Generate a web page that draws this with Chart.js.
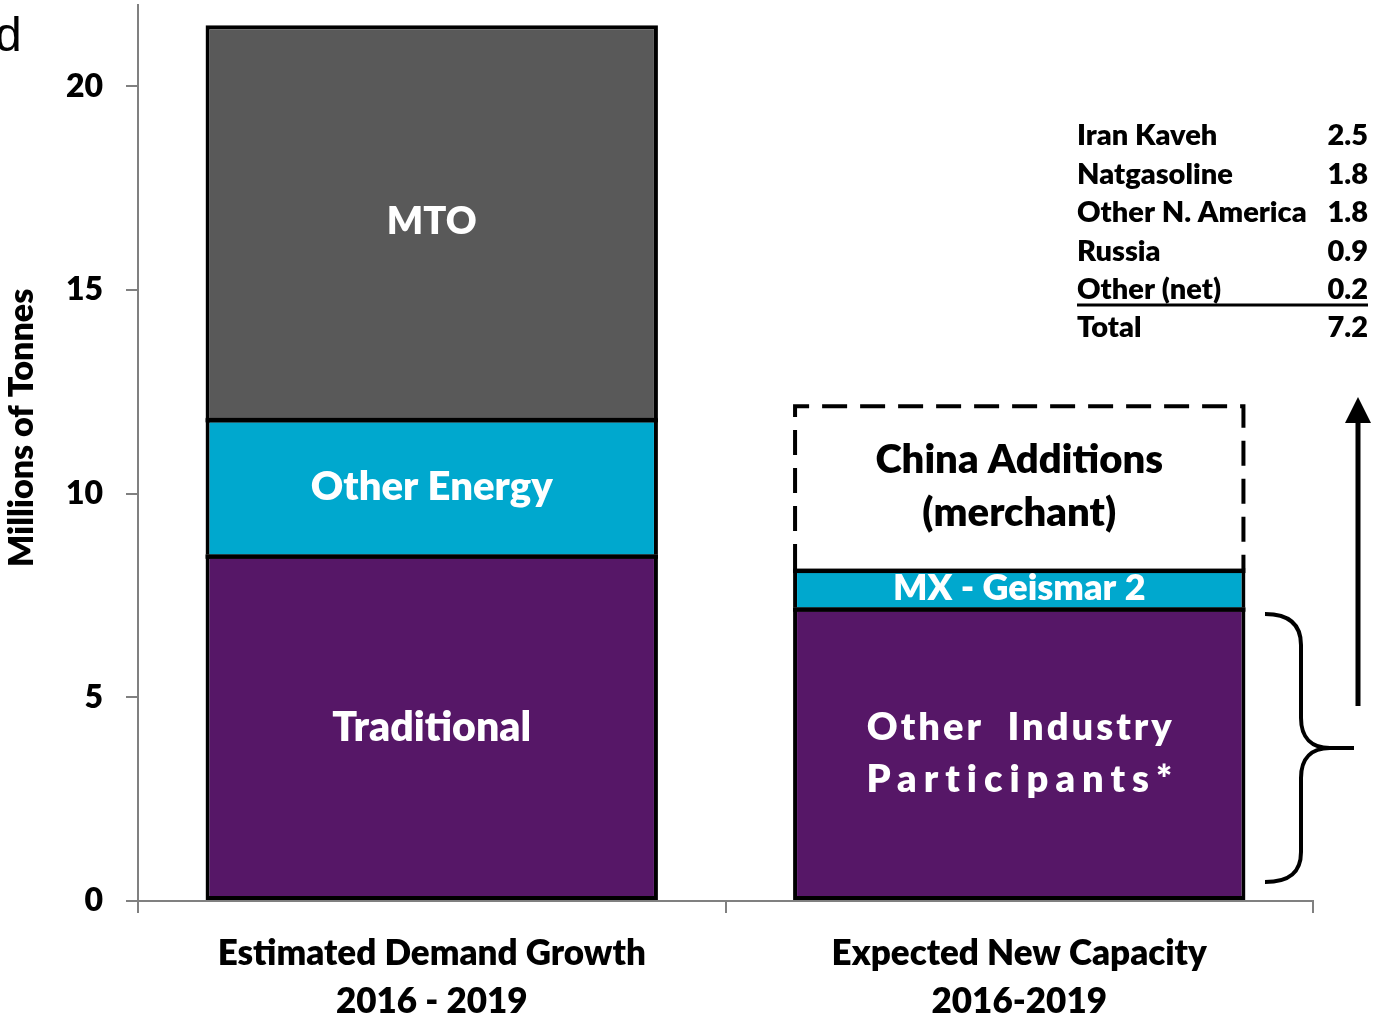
<!DOCTYPE html>
<html lang="en">
<head>
<meta charset="UTF-8">
<title>Demand Growth vs New Capacity</title>
<script src="https://cdn.jsdelivr.net/npm/chart.js@4.4.1/dist/chart.umd.min.js"></script>
<style>
  body { margin: 0; background: #fff; }
  canvas { display: block; }
</style>
</head>
<body>
<canvas id="grafico1" width="1374" height="1021"></canvas>

<script>
// categories (two-line axis labels)
const categories = [
  ["Estimated Demand Growth", "2016 - 2019"],
  ["Expected New Capacity", "2016-2019"]
];

// stacked segments, millions of tonnes
const traditional    = [8.5, null];
const otherEnergy    = [3.35, null];
const mto            = [9.65, null];
const otherIndustry  = [null, 7.2];
const geismar        = [null, 0.95];
const chinaAdditions = [null, 4.05];

const yTicks = [0, 5, 10, 15, 20];

// side table
const tableNames  = ["Iran Kaveh", "Natgasoline", "Other N. America", "Russia", "Other (net)", "Total"];
const tableValues = ["2.5", "1.8", "1.8", "0.9", "0.2", "7.2"];

const FONT = "Lato, 'Open Sans', sans-serif";
const W = "800";

document.addEventListener("DOMContentLoaded", function () {

  // text inside each segment
  const segLabels = {
    0: { lines: ["Traditional"], color: "#fff", size: 41 },
    1: { lines: ["Other Energy"], color: "#fff", size: 40 },
    2: { lines: ["MTO"], color: "#fff", size: 38 },
    3: { lines: ["Other  Industry", "Participants*"], color: "#fff", size: 38, spacing: [3, 7], lh: 52 },
    4: { lines: ["MX - Geismar 2"], color: "#fff", size: 36 },
    5: { lines: ["China Additions", "(merchant)"], color: "#000", size: 40, lh: 53 }
  };
  // segments with another segment stacked on top of them
  const hasSegAbove = [0, 1, 3, 4];

  const extras = {
    id: "extras",
    afterDatasetsDraw(chart) {
      const c = chart.ctx;
      c.save();
      c.textAlign = "center";
      c.textBaseline = "middle";
      chart.data.datasets.forEach((ds, di) => {
        const meta = chart.getDatasetMeta(di);
        meta.data.forEach((el, i) => {
          if (ds.data[i] == null) return;
          const p = el.getProps(["x", "y", "base", "width"], true);

          // keep the divider between stacked segments as heavy as the outline
          if (hasSegAbove.includes(di)) {
            c.fillStyle = "#000";
            c.fillRect(p.x - p.width / 2, p.y - 0.5, p.width, 4.5);
          }

          // dashed outline for the China box
          if (di === 5) {
            c.save();
            c.strokeStyle = "#000";
            c.lineWidth = 4;
            c.setLineDash([25, 13]);
            const l = p.x - p.width / 2 + 2, r = p.x + p.width / 2 - 2;
            c.beginPath();
            c.moveTo(l, p.base);
            c.lineTo(l, p.y + 2);
            c.lineTo(r, p.y + 2);
            c.lineTo(r, p.base);
            c.stroke();
            c.restore();
          }

          const s = segLabels[di];
          const lh = s.lh || s.size * 1.3;
          const cy = (p.y + p.base) / 2;
          c.fillStyle = s.color;
          c.font = W + " " + s.size + "px " + FONT;
          s.lines.forEach((t, k) => {
            c.letterSpacing = s.spacing ? s.spacing[k] + "px" : "0px";
            const off = s.spacing ? s.spacing[k] / 2 : 0;
            c.fillText(t, p.x + off, cy + (k - (s.lines.length - 1) / 2) * lh);
          });
          c.letterSpacing = "0px";
        });
      });
      c.restore();
    },
    afterDraw(chart) {
      const c = chart.ctx;
      c.save();

      // cut-off letter from the slide title
      c.fillStyle = "#000";
      c.font = "48px 'Liberation Sans', Arial, sans-serif";
      c.textAlign = "left";
      c.textBaseline = "alphabetic";
      c.fillText("d", -5, 51);

      // y axis title
      c.save();
      c.translate(22, 428);
      c.rotate(-Math.PI / 2);
      c.font = W + " 34px " + FONT;
      c.textAlign = "center";
      c.textBaseline = "middle";
      c.fillText("Millions of Tonnes", 0, 0);
      c.restore();

      // table
      c.font = W + " 29px " + FONT;
      c.textBaseline = "middle";
      tableNames.forEach((n, i) => {
        const y = 136 + i * 38.4;
        c.textAlign = "left";
        c.fillText(n, 1077, y);
        c.textAlign = "right";
        c.fillText(tableValues[i], 1368, y);
      });
      c.strokeStyle = "#000";
      c.lineWidth = 3;
      c.beginPath();
      c.moveTo(1077, 305);
      c.lineTo(1368, 305);
      c.stroke();

      // arrow
      c.lineWidth = 5;
      c.beginPath();
      c.moveTo(1358, 706);
      c.lineTo(1358, 418);
      c.stroke();
      c.beginPath();
      c.moveTo(1358, 397);
      c.lineTo(1345, 423);
      c.lineTo(1371, 423);
      c.closePath();
      c.fill();

      // brace
      c.lineWidth = 4;
      c.beginPath();
      c.moveTo(1265, 614);
      c.bezierCurveTo(1290, 614, 1301, 625, 1301, 645);
      c.lineTo(1301, 718);
      c.bezierCurveTo(1301, 738, 1312, 748, 1330, 748);
      c.lineTo(1354, 748);
      c.moveTo(1330, 748);
      c.bezierCurveTo(1312, 748, 1301, 758, 1301, 778);
      c.lineTo(1301, 852);
      c.bezierCurveTo(1301, 872, 1290, 882, 1265, 882);
      c.stroke();

      c.restore();
    }
  };

  const ctx = document.getElementById("grafico1").getContext("2d");
  const seg = (label, data, color, skip) => ({
    label: label,
    data: data,
    backgroundColor: color,
    borderColor: "#000",
    borderWidth: 4,
    borderSkipped: skip
  });

  new Chart(ctx, {
    type: "bar",
    data: {
      labels: categories,
      datasets: [
        seg("Traditional", traditional, "#561767", false),
        seg("Other Energy", otherEnergy, "#00A8CE", "bottom"),
        seg("MTO", mto, "#595959", "bottom"),
        seg("Other Industry Participants*", otherIndustry, "#561767", false),
        seg("MX - Geismar 2", geismar, "#00A8CE", "bottom"),
        { label: "China Additions (merchant)", data: chinaAdditions, backgroundColor: "#fff", borderWidth: 0 }
      ]
    },
    options: {
      responsive: false,
      animation: false,
      devicePixelRatio: 1,
      layout: { padding: { left: 0, top: 5, right: 61, bottom: 0 } },
      categoryPercentage: 0.77,
      barPercentage: 1,
      plugins: {
        legend: { display: false },
        tooltip: { enabled: false }
      },
      scales: {
        x: {
          stacked: true,
          grid: { drawOnChartArea: false, color: "#808080", lineWidth: 2, tickLength: 12, offset: true },
          border: { color: "#808080", width: 2 },
          ticks: {
            color: "#000",
            padding: 17,
            font: { family: FONT, weight: W, size: 35, lineHeight: 1.37 }
          },
          afterFit: s => { s.height = 120; s.paddingLeft = 0; s.paddingRight = 0; }
        },
        y: {
          stacked: true,
          min: 0,
          max: 22,
          grid: { drawOnChartArea: false, color: "#808080", lineWidth: 2, tickLength: 12 },
          border: { color: "#808080", width: 2 },
          ticks: {
            color: "#000",
            padding: 23,
            font: { family: FONT, weight: W, size: 32 }
          },
          afterBuildTicks: s => { s.ticks = yTicks.map(v => ({ value: v })); },
          afterFit: s => { s.width = 138; s.paddingTop = 0; s.paddingBottom = 0; }
        }
      }
    },
    plugins: [extras]
  });
});
</script>
</body>
</html>
